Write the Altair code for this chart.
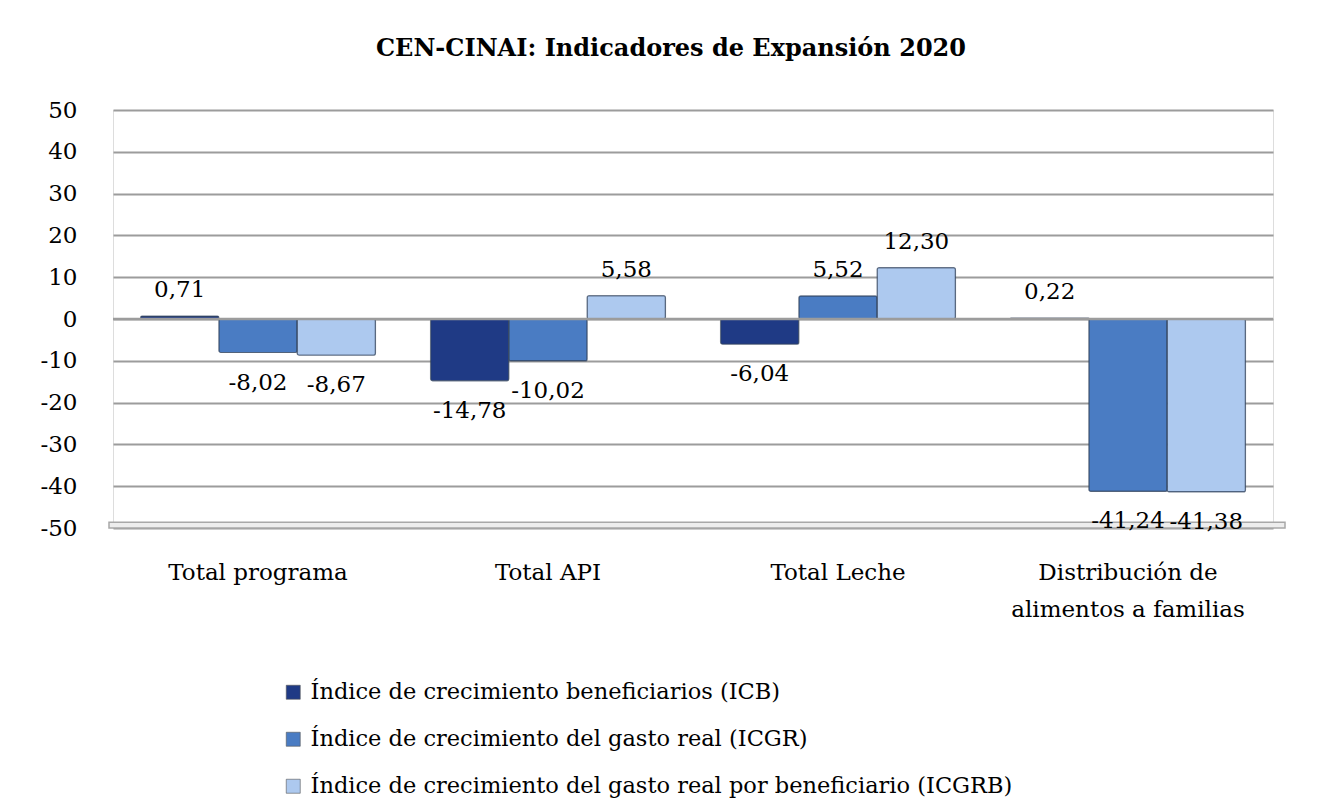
import altair as alt
import pandas as pd

categories = ["Total programa", "Total API", "Total Leche", "Distribución de\nalimentos a familias"]
series = [
    "Índice de crecimiento beneficiarios (ICB)",
    "Índice de crecimiento del gasto real (ICGR)",
    "Índice de crecimiento del gasto real por beneficiario (ICGRB)",
]
icb = [0.71, -14.78, -6.04, 0.22]
icgr = [-8.02, -10.02, 5.52, -41.24]
icgrb = [-8.67, 5.58, 12.30, -41.38]
colors = ["#1F3A85", "#4A7CC3", "#ADC9EF"]
y_ticks = [-50, -40, -30, -20, -10, 0, 10, 20, 30, 40, 50]

rows = []
for s, vals in zip(series, [icb, icgr, icgrb]):
    for c, v in zip(categories, vals):
        rows.append({"cat": c, "serie": s, "value": v})
df = pd.DataFrame(rows)

FONT = "DejaVu Serif"
FS = 23

x_enc = alt.X("cat:N", sort=categories, title=None,
              scale=alt.Scale(paddingInner=0.19, paddingOuter=0.095),
              axis=alt.Axis(labelExpr="split(datum.label, '\\n')", labelAngle=0,
                            labelFontSize=FS, labelFont=FONT, labelColor="#000000",
                            labelPadding=33, labelLineHeight=37, domain=False, ticks=False,
                            labelBaseline="top", labelLimit=400))
y_scale = alt.Scale(domain=[-50, 50], nice=False)
xoff = alt.XOffset("serie:N", sort=series, scale=alt.Scale(paddingInner=0))

base = alt.Chart(df)

bars = base.mark_bar(stroke="#34465f", strokeWidth=1.2, strokeOpacity=0.7, cornerRadius=2).encode(
    x=x_enc,
    xOffset=xoff,
    y=alt.Y("value:Q", scale=y_scale, title=None,
            axis=alt.Axis(values=y_ticks, labelExpr="'' + datum.value",
                          labelFontSize=FS, labelFont=FONT, labelColor="#000000",
                          labelPadding=36, domain=False, ticks=False, grid=True,
                          gridColor="#9C9C9C", gridWidth=2)),
    color=alt.Color("serie:N", sort=series, scale=alt.Scale(domain=series, range=colors),
                    legend=alt.Legend(title=None, orient="none", legendX=169, legendY=571,
                                      direction="vertical", labelFont=FONT, labelFontSize=22.5,
                                      labelColor="#000000", symbolType="square", symbolSize=196,
                                      symbolStrokeColor="#555555", symbolStrokeWidth=0.6,
                                      rowPadding=24, labelOffset=6, labelLimit=900)),
)

zero = alt.Chart(pd.DataFrame({"v": [0]})).mark_rule(color="#9C9C9C", strokeWidth=2.5).encode(
    y=alt.Y("v:Q", scale=y_scale))

floor = alt.Chart(pd.DataFrame({"a": [-50], "b": [-48.6]})).mark_rect(
    fill="#EDEDED", stroke="#A8A8A8", strokeWidth=1.5).encode(
    y=alt.Y("a:Q", scale=y_scale), y2="b:Q", x=alt.value(-4), x2=alt.value(1172))

label_expr = "(datum.value < 0 ? '-' : '') + replace(format(abs(datum.value), '.2f'), '.', ',')"

pos_labels = base.transform_filter("datum.value >= 0").transform_calculate(
    lab=label_expr
).mark_text(font=FONT, fontSize=FS, color="#000000", baseline="middle", dy=-26).encode(
    x=alt.X("cat:N", sort=categories), xOffset=xoff, y=alt.Y("value:Q", scale=y_scale), text="lab:N")

neg_labels = base.transform_filter("datum.value < 0").transform_calculate(
    lab=label_expr
).mark_text(font=FONT, fontSize=FS, color="#000000", baseline="middle", dy=30).encode(
    x=alt.X("cat:N", sort=categories), xOffset=xoff, y=alt.Y("value:Q", scale=y_scale), text="lab:N")

chart = alt.layer(floor, bars, zero, pos_labels, neg_labels).properties(
    width=1160, height=418,
    title=alt.TitleParams("CEN-CINAI: Indicadores de Expansión 2020", font=FONT, fontSize=24,
                          fontWeight="bold", color="#000000", anchor="middle", offset=38, dx=-22),
    autosize=alt.AutoSizeParams(type="none"),
    padding={"left": 105, "top": 102, "right": 50, "bottom": 270},
).configure_view(stroke=None).configure(background="#FFFFFF")

chart.save("out.html", embed_options={"renderer": "svg", "actions": False})
